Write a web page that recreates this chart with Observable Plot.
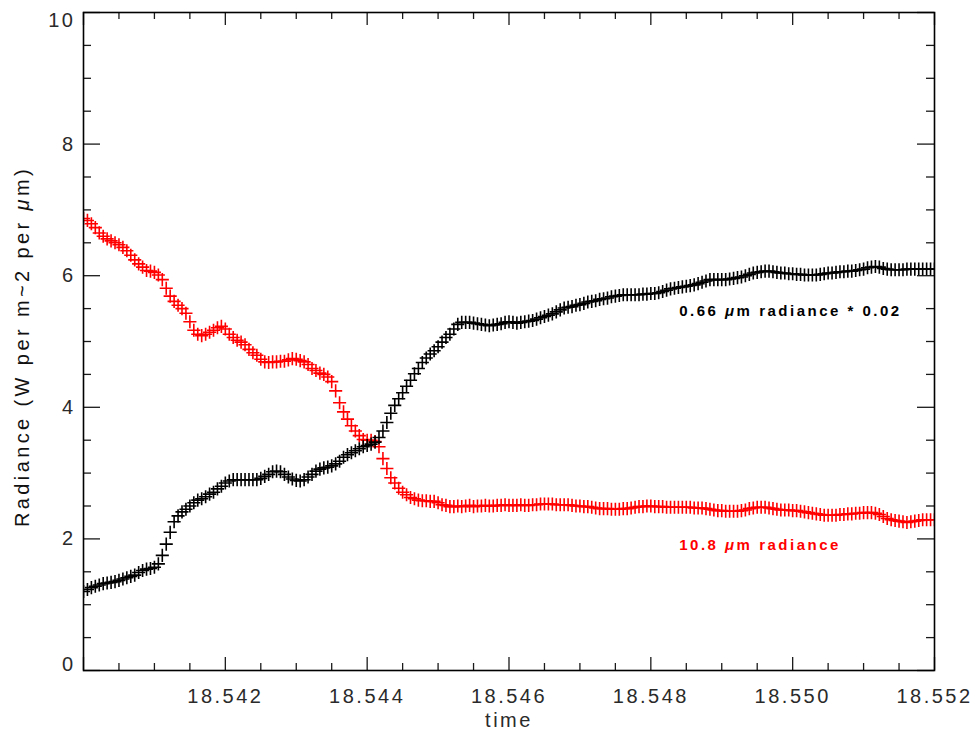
<!DOCTYPE html>
<html>
<head>
<meta charset="utf-8">
<script src="https://cdn.jsdelivr.net/npm/d3@7"></script>
<script src="https://cdn.jsdelivr.net/npm/@observablehq/plot@0.6"></script>
<style>
  html, body { margin: 0; padding: 0; background: #fff; }
  #chart { width: 976px; height: 732px; }
</style>
</head>
<body>
<div id="chart"></div>
<script>
// Time axis extent (hours)
const timeStart = 18.540;
const timeEnd = 18.552;

// 10.8 µm radiance (red)
const rad108 = [
  6.87,6.84,6.79,6.73,6.65,6.60,6.56,6.53,6.50,6.47,
  6.43,6.38,6.31,6.24,6.18,6.13,6.08,6.07,6.05,6.01,
  5.94,5.81,5.69,5.61,5.55,5.50,5.43,5.30,5.17,5.11,
  5.09,5.11,5.14,5.17,5.21,5.23,5.19,5.11,5.06,5.02,
  4.99,4.95,4.88,4.83,4.79,4.73,4.69,4.68,4.69,4.69,
  4.70,4.70,4.72,4.74,4.73,4.71,4.69,4.65,4.59,4.56,
  4.52,4.50,4.46,4.39,4.25,4.07,3.93,3.82,3.72,3.64,
  3.57,3.51,3.50,3.50,3.48,3.40,3.22,3.07,2.93,2.85,
  2.77,2.71,2.67,2.63,2.61,2.59,2.58,2.58,2.57,2.57,
  2.55,2.52,2.51,2.49,2.49,2.50,2.49,2.50,2.51,2.49,
  2.50,2.50,2.51,2.50,2.50,2.51,2.51,2.52,2.51,2.51,
  2.51,2.52,2.51,2.51,2.52,2.52,2.53,2.53,2.53,2.53,
  2.52,2.52,2.52,2.52,2.51,2.50,2.50,2.49,2.49,2.48,
  2.47,2.46,2.46,2.46,2.45,2.45,2.45,2.46,2.46,2.47,
  2.48,2.49,2.49,2.50,2.50,2.49,2.49,2.49,2.48,2.48,
  2.48,2.48,2.48,2.48,2.48,2.47,2.47,2.47,2.46,2.45,
  2.44,2.43,2.43,2.42,2.42,2.42,2.42,2.43,2.44,2.46,
  2.47,2.48,2.48,2.48,2.47,2.46,2.45,2.44,2.44,2.44,
  2.43,2.43,2.42,2.41,2.40,2.39,2.38,2.37,2.36,2.36,
  2.36,2.36,2.37,2.37,2.38,2.38,2.39,2.39,2.40,2.40,
  2.40,2.39,2.37,2.34,2.31,2.29,2.28,2.27,2.26,2.25,
  2.26,2.27,2.28,2.29,2.29,2.29,2.29
];

// 0.66 µm radiance * 0.02 (black)
const rad066 = [
  1.20,1.23,1.26,1.28,1.30,1.32,1.33,1.34,1.35,1.37,
  1.39,1.41,1.43,1.45,1.49,1.52,1.54,1.55,1.57,1.62,
  1.75,1.92,2.10,2.26,2.35,2.41,2.45,2.50,2.55,2.59,
  2.61,2.64,2.68,2.71,2.76,2.80,2.85,2.88,2.90,2.90,
  2.90,2.90,2.90,2.90,2.90,2.92,2.95,2.98,3.02,3.03,
  3.02,2.98,2.94,2.91,2.89,2.88,2.90,2.94,2.98,3.03,
  3.06,3.08,3.09,3.11,3.14,3.18,3.24,3.28,3.31,3.34,
  3.37,3.40,3.42,3.44,3.47,3.54,3.64,3.77,3.91,4.03,
  4.13,4.22,4.32,4.41,4.51,4.59,4.68,4.75,4.81,4.86,
  4.92,4.99,5.06,5.11,5.19,5.26,5.29,5.29,5.29,5.28,
  5.27,5.26,5.25,5.24,5.25,5.26,5.27,5.29,5.30,5.29,
  5.28,5.29,5.30,5.31,5.32,5.34,5.36,5.38,5.40,5.42,
  5.45,5.48,5.51,5.52,5.53,5.55,5.56,5.58,5.60,5.61,
  5.62,5.64,5.65,5.66,5.68,5.69,5.70,5.71,5.71,5.71,
  5.71,5.71,5.72,5.72,5.73,5.73,5.74,5.76,5.78,5.80,
  5.81,5.82,5.83,5.84,5.85,5.86,5.88,5.90,5.92,5.94,
  5.94,5.94,5.94,5.94,5.95,5.96,5.97,5.98,6.00,6.02,
  6.04,6.05,6.06,6.07,6.07,6.06,6.05,6.04,6.04,6.03,
  6.03,6.02,6.02,6.01,6.01,6.01,6.01,6.02,6.03,6.04,
  6.04,6.05,6.06,6.06,6.07,6.07,6.08,6.09,6.10,6.12,
  6.13,6.14,6.13,6.11,6.10,6.09,6.09,6.09,6.09,6.10,
  6.10,6.10,6.10,6.10,6.10,6.10,6.10
];

// Axis ticks and labels
const xMajorTicks = [18.540, 18.542, 18.544, 18.546, 18.548, 18.550, 18.552];
const xMinorTicks = [18.5405, 18.541, 18.5415, 18.5425, 18.543, 18.5435, 18.5445, 18.545, 18.5455,
                     18.5465, 18.547, 18.5475, 18.5485, 18.549, 18.5495, 18.5505, 18.551, 18.5515];
const xTickLabels = [18.542, 18.544, 18.546, 18.548, 18.550, 18.552];
const yMajorTicks = [0, 2, 4, 6, 8, 10];
const yMinorTicks = [0.5, 1, 1.5, 2.5, 3, 3.5, 4.5, 5, 5.5, 6.5, 7, 7.5, 8.5, 9, 9.5];
const yMidLabels = [2, 4, 6, 8];
const seriesLabels = ["0.66 μm radiance * 0.02", "10.8 μm radiance"];
const axisTitles = ["time", "Radiance (W per m~2 per μm)"];

const n = rad108.length;
const times = rad108.map((_, i) => timeStart + (timeEnd - timeStart) * i / (n - 1));
const redData = rad108.map((v, i) => ({t: times[i], v}));
const blackData = rad066.map((v, i) => ({t: times[i], v}));

const W = 976, H = 732, mL = 83, mR = 42, mT = 12, mB = 62;
const innerH = H - mT - mB, innerW = W - mL - mR;
const majX = 13, minX = 7, majY = 17, minY = 8;
const tickColor = "#1a1a1a";
const labelFont = "'Liberation Sans', Arial, sans-serif";

const plot = Plot.plot({
  width: W, height: H,
  marginLeft: mL, marginRight: mR, marginTop: mT, marginBottom: mB,
  x: {domain: [timeStart, timeEnd]},
  y: {domain: [0, 10]},
  axis: null,
  style: {background: "#fff", fontFamily: labelFont, overflow: "visible"},
  marks: [
    // data (clipped to the plot window)
    Plot.dot(redData, {x: "t", y: "v", symbol: "plus", r: 4.3, stroke: "#ff0000", strokeWidth: 1.6, clip: true}),
    Plot.dot(blackData, {x: "t", y: "v", symbol: "plus", r: 4.3, stroke: "#000", strokeWidth: 1.6, clip: true}),
    // ticks (inward, on all four sides)
    Plot.ruleX(xMajorTicks, {x: d => d, insetTop: innerH - majX, stroke: tickColor, strokeWidth: 1.3}),
    Plot.ruleX(xMajorTicks, {x: d => d, insetBottom: innerH - majX, stroke: tickColor, strokeWidth: 1.3}),
    Plot.ruleX(xMinorTicks, {x: d => d, insetTop: innerH - minX, stroke: tickColor, strokeWidth: 1.3}),
    Plot.ruleX(xMinorTicks, {x: d => d, insetBottom: innerH - minX, stroke: tickColor, strokeWidth: 1.3}),
    Plot.ruleY(yMajorTicks, {y: d => d, insetRight: innerW - majY, stroke: tickColor, strokeWidth: 1.3}),
    Plot.ruleY(yMajorTicks, {y: d => d, insetLeft: innerW - majY, stroke: tickColor, strokeWidth: 1.3}),
    Plot.ruleY(yMinorTicks, {y: d => d, insetRight: innerW - minY, stroke: tickColor, strokeWidth: 1.3}),
    Plot.ruleY(yMinorTicks, {y: d => d, insetLeft: innerW - minY, stroke: tickColor, strokeWidth: 1.3}),
    Plot.frame({stroke: "#000", strokeWidth: 1.6}),
    // tick labels
    Plot.text(xTickLabels, {x: d => d, frameAnchor: "bottom", text: d => d.toFixed(3), dy: 26,
      fontSize: 20, fill: "#2a2a2a", textAnchor: "middle", lineAnchor: "middle"}),
    Plot.text(yMidLabels, {y: d => d, frameAnchor: "left", text: d => String(d), dx: -8,
      fontSize: 20, fill: "#2a2a2a", textAnchor: "end", lineAnchor: "middle"}),
    Plot.text([0], {y: d => d, frameAnchor: "left", text: d => String(d), dx: -8, dy: -6,
      fontSize: 20, fill: "#2a2a2a", textAnchor: "end", lineAnchor: "middle"}),
    Plot.text([10], {y: d => d, frameAnchor: "left", text: d => String(d), dx: -8, dy: 8,
      fontSize: 20, fill: "#2a2a2a", textAnchor: "end", lineAnchor: "middle"}),
    // axis titles
    Plot.text([axisTitles[0]], {frameAnchor: "bottom", text: d => d, dy: 50,
      fontSize: 20, fill: "#2a2a2a", textAnchor: "middle", lineAnchor: "middle"}),
    Plot.text([axisTitles[1]], {frameAnchor: "left", text: d => d, dx: -61, dy: 5, rotate: -90,
      fontSize: 20, fill: "#111", textAnchor: "middle", lineAnchor: "middle"}),
    // series labels
    Plot.text([seriesLabels[0]], {x: () => 18.5484, y: () => 5.46, text: d => d, textAnchor: "start",
      fontSize: 15, fill: "#000", fontWeight: "bold", lineAnchor: "middle"}),
    Plot.text([seriesLabels[1]], {x: () => 18.5484, y: () => 1.90, text: d => d, textAnchor: "start",
      fontSize: 15, fill: "#ff0000", fontWeight: "bold", lineAnchor: "middle"})
  ]
});

document.getElementById("chart").appendChild(plot);

// wide lettering like the original
plot.querySelectorAll("text").forEach(el => {
  const fs = parseFloat(el.getAttribute("font-size") || "10");
  const txt = el.textContent;
  let ls = fs >= 18 ? 2.2 : 2.5;
  if (txt.startsWith("Radiance")) ls = 3.4;
  el.setAttribute("letter-spacing", ls);
});

// italic μ, keeping the centre of middle-anchored text in place
plot.querySelectorAll("text").forEach(el => {
  if (!el.textContent.includes("μ")) return;
  const target = el.querySelector("tspan") || el;
  const b0 = el.getBBox();
  const parts = target.textContent.split("μ");
  target.textContent = "";
  parts.forEach((p, k) => {
    if (k > 0) {
      const ts = document.createElementNS("http://www.w3.org/2000/svg", "tspan");
      ts.setAttribute("font-style", "italic");
      ts.textContent = "μ";
      target.appendChild(ts);
    }
    target.appendChild(document.createTextNode(p));
  });
  const b1 = el.getBBox();
  const anchor = getComputedStyle(el).textAnchor;
  if (anchor === "middle") {
    const shift = (b0.x + b0.width / 2) - (b1.x + b1.width / 2);
    if (Math.abs(shift) > 0.5) {
      const tr = el.getAttribute("transform") || "";
      el.setAttribute("transform", tr + ` translate(${shift},0)`);
    }
  }
});
</script>
</body>
</html>
